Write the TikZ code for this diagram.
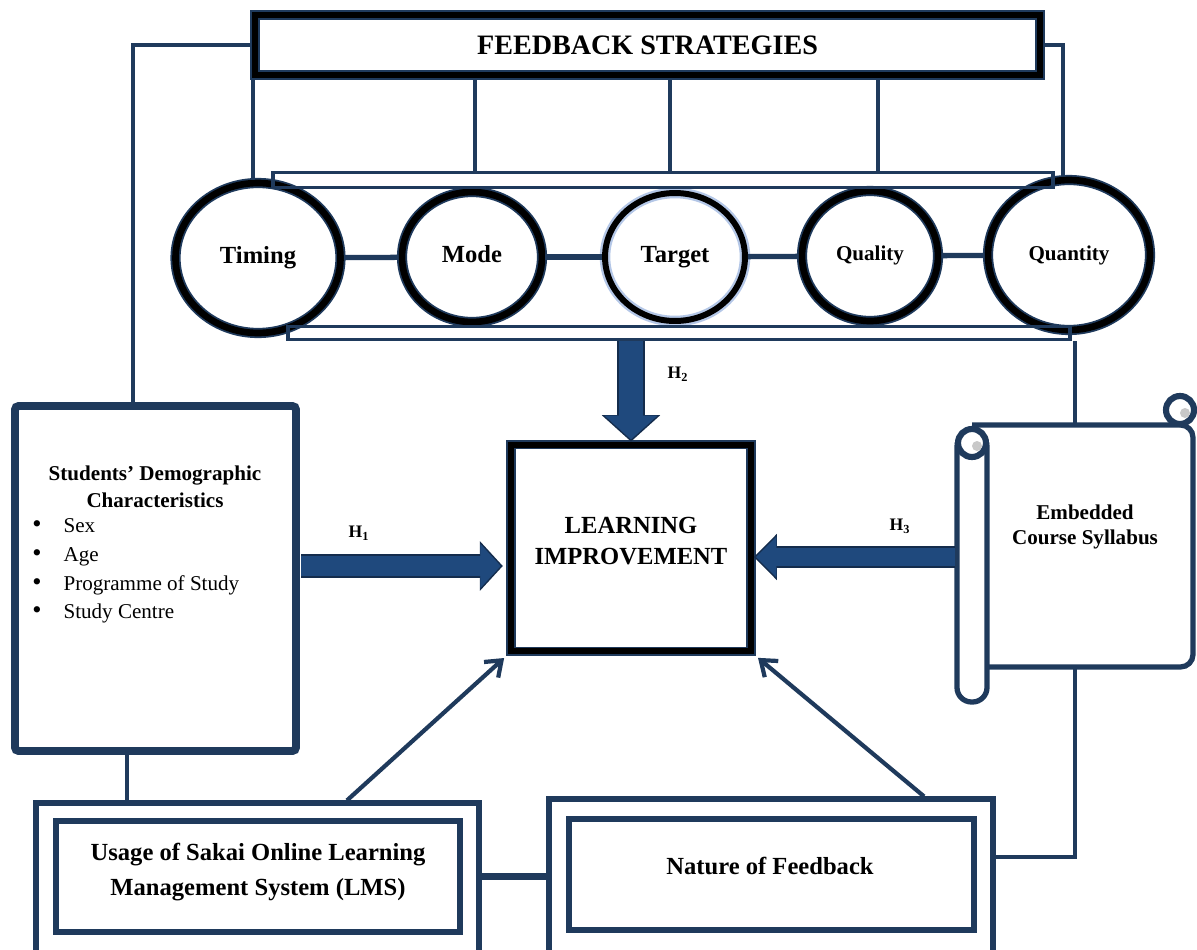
\documentclass[tikz,border=0pt]{standalone}
\usepackage{fontspec}
\setmainfont{Liberation Serif}
\usetikzlibrary{shapes.geometric,arrows.meta,calc}
\definecolor{navy}{HTML}{1F3A5C}
\definecolor{afill}{HTML}{1F497D}
\definecolor{aline}{HTML}{142C4C}
\definecolor{glow}{HTML}{B4C7E7}
\definecolor{curlgray}{HTML}{C8C8C8}
\begin{document}
\begin{tikzpicture}[x=0.02cm,y=-0.02cm,
  conn/.style={draw=navy,line width=2.2pt},
  bigbox/.style={draw=black,line width=3.4pt,preaction={fill=white,draw=navy,line width=5.6pt},inner sep=0pt},
  circ/.style={ellipse,draw=black,line width=3.8pt,preaction={fill=white,draw=navy,line width=5.8pt},inner sep=0pt,font=\bfseries\fontsize{14}{16}\selectfont},
  glowcirc/.style={ellipse,draw=black,line width=3.4pt,preaction={fill=white,draw=glow,line width=6pt},inner sep=0pt,font=\bfseries\fontsize{14}{16}\selectfont},
  band/.style={draw=navy,line width=2pt,inner sep=0pt},
  demobox/.style={draw=navy,line width=4.5pt,rounded corners=2pt,fill=white,inner sep=0pt},
  obox/.style={draw=navy,line width=3pt,fill=white,inner sep=0pt},
  ibox/.style={draw=navy,line width=3.5pt,fill=white,inner sep=0pt},
  btext/.style={align=center,inner sep=0pt,font=\bfseries\fontsize{14}{20}\selectfont},
  scrl/.style={draw=navy,line width=3pt},
  hlab/.style={font=\bfseries\fontsize{10}{12}\selectfont,inner sep=1pt},
  thinarrow/.style={draw=navy,line width=2.4pt,-{Straight Barb[length=8pt,width=12pt]},shorten >=3pt},
  bout/.style={draw=aline},
  bin/.style={draw=afill}
]
\useasboundingbox (0,0) rectangle (1197,950);
\clip (0,0) rectangle (1197,950);

% ---- top box
\node[bigbox,minimum width=15.7cm,minimum height=1.2cm,font=\bfseries\fontsize{16}{19}\selectfont] (fb) at (647.5,45) {FEEDBACK STRATEGIES};

% ---- helper coordinates
\coordinate (v1) at (253,0);
\coordinate (v2) at (475,0);
\coordinate (v3) at (670,0);
\coordinate (v4) at (878,0);
\coordinate (rq) at (1063,176);
\coordinate (lq) at (133,0);

% ---- ellipses
\node[circ,minimum width=3.3cm,minimum height=3.0cm] (timing) at (258,258) {\raisebox{2pt}{Timing}};
\node[circ,minimum width=2.8cm,minimum height=2.6cm] (mode) at (472,257) {\raisebox{4pt}{Mode}};
\node[glowcirc,minimum width=2.8cm,minimum height=2.56cm] (target) at (675,257) {\raisebox{2pt}{Target}};
\node[circ,minimum width=2.72cm,minimum height=2.6cm,font=\bfseries\fontsize{12}{14}\selectfont] (quality) at (870,256) {\raisebox{3pt}{Quality}};
\node[circ,minimum width=3.24cm,minimum height=3.0cm,font=\bfseries\fontsize{12}{14}\selectfont] (quantity) at (1069,255) {\raisebox{2pt}{Quantity}};

\draw[conn,line width=3pt] (timing) -- (mode);
\draw[conn,line width=3pt] (mode) -- (target);
\draw[conn,line width=3pt] (target) -- (quality);
\draw[conn,line width=3pt] (quality) -- (quantity);

% ---- band
\node[band,minimum width=15.6cm,minimum height=0.3cm] (bandT) at (663,180) {};
\node[band,minimum width=15.64cm,minimum height=0.26cm] (bandB) at (679,333) {};

% ---- connectors from top box
\draw[conn] (fb.south -| v1) -- (v1 |- timing.north);
\draw[conn] (fb.south -| v2) -- (v2 |- bandT.north);
\draw[conn] (fb.south -| v3) -- (v3 |- bandT.north);
\draw[conn] (fb.south -| v4) -- (v4 |- bandT.north);
\draw[conn] (fb.east) -| (rq);

% ---- demographic box
\draw[conn] (fb.west) -| (lq |- 0,405);
\node[demobox,minimum width=5.62cm,minimum height=6.9cm] (demo) at (155.5,578.5) {};
\node[font=\bfseries\fontsize{12}{15.3}\selectfont,align=center] (demohead) at (155,487) {Students’ Demographic\\Characteristics};
\node[anchor=west,inner sep=0pt,font=\fontsize{12}{16.3}\selectfont] (demolist) at (32,570)
  {\begin{tabular}{@{}l@{\hspace{12.5pt}}l@{}}
   {\fontsize{15}{12}\selectfont\textbullet} & Sex\\
   {\fontsize{15}{12}\selectfont\textbullet} & Age\\
   {\fontsize{15}{12}\selectfont\textbullet} & Programme of Study\\
   {\fontsize{15}{12}\selectfont\textbullet} & Study Centre
   \end{tabular}};

% ---- learning improvement
\node[bigbox,minimum width=4.8cm,minimum height=4.14cm] (learn) at (631,548) {};
\node[btext,font=\bfseries\fontsize{14}{18}\selectfont] (learntxt) at (631,541) {LEARNING\\IMPROVEMENT};

% ---- scroll
\node[minimum width=4.8cm,minimum height=4.84cm,inner sep=0pt] (scroll) at (1075,546) {};
\draw[conn] (scroll.north) -- (scroll.north |- bandB.south);
\draw[scrl,fill=white,rounded corners=0.25cm] (972,425) -- (1193,425) -- (1193,667) -- (978,667);
\draw[scrl,line width=3.5pt,fill=white] (1180,410) circle (0.28cm);
\fill[curlgray] (1185,413) circle (0.1cm);
\draw[scrl,fill=white,rounded corners=0.29cm] (957,432) rectangle (987,702);
\draw[scrl,line width=3.5pt,fill=white] (972,443) circle (0.28cm);
\fill[curlgray] (977,446) circle (0.1cm);
\node[font=\bfseries\fontsize{12}{14}\selectfont,align=center] (scrolltxt) at (1085,527) {Embedded\\Course Syllabus};

% ---- block arrows
\coordinate (h1a) at (301,566);
\coordinate (h3a) at (955,557);
\draw[bout,line width=15.5pt,-{Triangle[length=15pt,width=33pt,line width=1.4pt]}] (bandB.south -| learn.north) -- (learn.north);
\draw[bin,line width=13.2pt,shorten >=1.2pt,-{Triangle[length=13.5pt,width=30pt,line width=0.3pt]}] (bandB.south -| learn.north) -- (learn.north);
\draw[bout,line width=13.5pt,shorten >=3pt,-{Triangle[length=13pt,width=28pt,line width=1.4pt]}] (h1a) -- (h1a -| learn.west);
\draw[bin,line width=11.2pt,shorten >=4.2pt,-{Triangle[length=11.5pt,width=25pt,line width=0.3pt]}] (h1a) -- (h1a -| learn.west);
\draw[bout,line width=13pt,-{Triangle[length=13pt,width=26pt,line width=1.4pt]}] (h3a) -- (h3a -| learn.east);
\draw[bin,line width=10.7pt,shorten >=1.2pt,-{Triangle[length=11.5pt,width=23pt,line width=0.3pt]}] (h3a) -- (h3a -| learn.east);
\node[hlab] (h2l) at (678,374) {H\textsubscript{2}};
\node[hlab] (h1l) at (359,533) {H\textsubscript{1}};
\node[hlab] (h3l) at (900,526) {H\textsubscript{3}};

% ---- bottom boxes
\coordinate (d1) at (127,0);
\coordinate (r1) at (995,857);
\coordinate (a1) at (347,0);
\coordinate (a2) at (924,0);
\node[obox,minimum width=8.86cm,minimum height=4cm] (lmsO) at (257.5,903) {};
\node[obox,minimum width=8.88cm,minimum height=4cm] (natO) at (771,899) {};
\node[ibox,minimum width=8.08cm,minimum height=2.22cm] (lmsI) at (258,876.5) {};
\node[ibox,minimum width=8.1cm,minimum height=2.22cm] (natI) at (771.5,874.5) {};
\node[btext] (lmstxt) at (258,872) {Usage of Sakai Online Learning\\Management System (LMS)};
\node[btext] (nattxt) at (770,866) {Nature of Feedback};
\draw[conn,line width=3.5pt] (lmsO.east |- lmsI.east) -- (natO.west |- lmsI.east);
\draw[conn] (scroll.south) |- (natO.east |- r1);
\draw[conn] (demo.south -| d1) -- (d1 |- lmsO.north);
\draw[thinarrow] (a1 |- lmsO.north) -- (learn.south west);
\draw[thinarrow] (a2 |- natO.north) -- (learn.south east);
\end{tikzpicture}
\end{document}
